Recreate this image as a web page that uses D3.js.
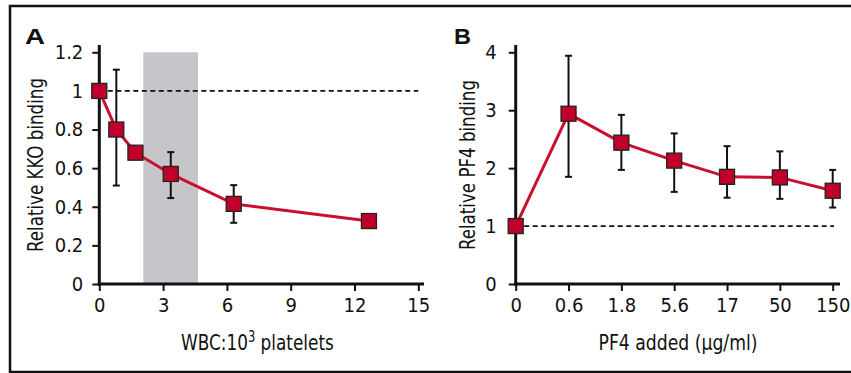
<!DOCTYPE html>
<html><head><meta charset="utf-8">
<script src="https://cdn.jsdelivr.net/npm/d3@7/dist/d3.min.js"></script>
<style>
body{margin:0;background:#fff;}
svg{display:block;}
text{font-family:"Liberation Sans Narrow","DejaVu Sans Condensed","Open Sans",sans-serif;fill:#111;}
</style></head>
<body>
<script>
// Panel A data
const aX = [0, 0.8, 1.7, 3.36, 6.32, 12.68];
const aY = [1.0, 0.8, 0.68, 0.57, 0.415, 0.326];
const aErrLow = [null, 0.51, null, 0.445, 0.317, null];
const aErrHigh = [null, 1.11, null, 0.683, 0.512, null];
const aXTicks = [0, 3, 6, 9, 12, 15];
const aYTicks = [0, 0.2, 0.4, 0.6, 0.8, 1, 1.2];
const aShade = [2.07, 4.64];

// Panel B data
const bCats = ["0", "0.6", "1.8", "5.6", "17", "50", "150"];
const bY = [1.0, 2.94, 2.44, 2.13, 1.85, 1.84, 1.61];
const bErrLow = [null, 1.85, 1.97, 1.59, 1.49, 1.47, 1.32];
const bErrHigh = [null, 3.94, 2.92, 2.60, 2.38, 2.29, 1.97];
const bYTicks = [0, 1, 2, 3, 4];

const W = 851, H = 373;
const svg = d3.select("body").append("svg").attr("width", W).attr("height", H);

// frame
svg.append("path").attr("d", `M851,6 H10 V372 H851`).attr("fill","none").attr("stroke","#111").attr("stroke-width",2.5);

const RED = "#c8102e", MARK = "#c0002a";
const TICKFS = "20px";

function styleAxis(a){
  a.select(".domain").remove();
  a.selectAll("line").attr("stroke","#111").attr("stroke-width",2);
  a.selectAll("text").style("font-size",TICKFS).attr("fill","#111");
}

// ---------- Panel A ----------
{
  const x = d3.scaleLinear().domain([0, 15]).range([99.3, 418.3]);
  const y = d3.scaleLinear().domain([0, 1.2]).range([284, 52.3]);
  const g = svg.append("g");
  g.append("rect").attr("x", x(aShade[0])).attr("width", x(aShade[1]) - x(aShade[0]))
    .attr("y", y(1.2)).attr("height", y(0) - y(1.2)).attr("fill", "#c6c5c9");
  g.append("line").attr("x1", x(0)).attr("x2", x(15)).attr("y1", y(1)).attr("y2", y(1))
    .attr("stroke","#111").attr("stroke-width",1.8).attr("stroke-dasharray","5,3.5");
  const xa = g.append("g").attr("transform", `translate(0,${y(0)})`)
    .call(d3.axisBottom(x).tickValues(aXTicks).tickSize(7).tickPadding(7).tickFormat(d3.format("d")));
  const ya = g.append("g").attr("transform", `translate(${x(0)},0)`)
    .call(d3.axisLeft(y).tickValues(aYTicks).tickSize(7).tickPadding(9)
      .tickFormat(d => (d === 0 || d === 1) ? String(d) : d3.format(".1f")(d)));
  styleAxis(xa); styleAxis(ya);
  g.append("line").attr("x1", x(0)).attr("x2", x(0)).attr("y1", 45).attr("y2", y(0)+1.5).attr("stroke","#111").attr("stroke-width",3);
  g.append("line").attr("x1", x(0)-1.5).attr("x2", 424).attr("y1", y(0)).attr("y2", y(0)).attr("stroke","#111").attr("stroke-width",3);
  g.append("path").datum(aX.map((v,i)=>[v,aY[i]]))
    .attr("d", d3.line().x(d=>x(d[0])).y(d=>y(d[1])))
    .attr("fill","none").attr("stroke",RED).attr("stroke-width",3);
  aX.forEach((v,i)=>{
    if(aErrLow[i]==null) return;
    const cx = x(v);
    g.append("line").attr("x1",cx).attr("x2",cx).attr("y1",y(aErrLow[i])).attr("y2",y(aErrHigh[i])).attr("stroke","#111").attr("stroke-width",2);
    [aErrLow[i], aErrHigh[i]].forEach(e=>g.append("line").attr("x1",cx-3.5).attr("x2",cx+3.5).attr("y1",y(e)).attr("y2",y(e)).attr("stroke","#111").attr("stroke-width",2));
  });
  g.selectAll("rect.m").data(aX.map((v,i)=>[v,aY[i]])).join("rect").attr("class","m")
    .attr("x", d=>x(d[0])-7.5).attr("y", d=>y(d[1])-7.5).attr("width",15).attr("height",15)
    .attr("fill",MARK).attr("stroke","#222").attr("stroke-width",1.3);
  g.append("text").attr("x",25).attr("y",44).attr("textLength",20).attr("lengthAdjust","spacingAndGlyphs").text("A")
    .style("font-family","'Liberation Sans',Arial,sans-serif").style("font-weight","bold").style("font-size","22px");
  g.append("text").attr("transform","translate(43,165) rotate(-90)").attr("text-anchor","middle")
    .style("font-size","22px").attr("textLength",174).attr("lengthAdjust","spacingAndGlyphs").text("Relative KKO binding");
  const t = g.append("text").attr("x",181).attr("y",350).style("font-size","22px");
  t.append("tspan").text("WBC:10");
  t.append("tspan").attr("dy",-8).style("font-size","15px").text("3");
  t.append("tspan").attr("dy",8).text(" platelets");
  // fit overall width
  const bw = t.node().getComputedTextLength();
  if (bw > 0) t.attr("transform", `translate(181,0) scale(${153/bw},1) translate(-181,0)`);
}

// ---------- Panel B ----------
{
  const x = d3.scalePoint().domain(bCats).range([515.7, 832.7]);
  const y = d3.scaleLinear().domain([0, 4]).range([284, 52.3]);
  const g = svg.append("g");
  g.append("line").attr("x1", x("0")).attr("x2", 834).attr("y1", y(1)).attr("y2", y(1))
    .attr("stroke","#111").attr("stroke-width",1.8).attr("stroke-dasharray","5,3.5");
  const xa = g.append("g").attr("transform", `translate(0,${y(0)})`)
    .call(d3.axisBottom(x).tickSize(7).tickPadding(7));
  const ya = g.append("g").attr("transform", `translate(${x("0")},0)`)
    .call(d3.axisLeft(y).tickValues(bYTicks).tickSize(7).tickPadding(12).tickFormat(d3.format("d")));
  styleAxis(xa); styleAxis(ya);
  g.append("line").attr("x1", x("0")).attr("x2", x("0")).attr("y1", 45).attr("y2", y(0)+1.5).attr("stroke","#111").attr("stroke-width",3);
  g.append("line").attr("x1", x("0")-1.5).attr("x2", 840).attr("y1", y(0)).attr("y2", y(0)).attr("stroke","#111").attr("stroke-width",3);
  g.append("path").datum(bCats.map((c,i)=>[c,bY[i]]))
    .attr("d", d3.line().x(d=>x(d[0])).y(d=>y(d[1])))
    .attr("fill","none").attr("stroke",RED).attr("stroke-width",3);
  bCats.forEach((c,i)=>{
    if(bErrLow[i]==null) return;
    const cx = x(c);
    g.append("line").attr("x1",cx).attr("x2",cx).attr("y1",y(bErrLow[i])).attr("y2",y(bErrHigh[i])).attr("stroke","#111").attr("stroke-width",2);
    [bErrLow[i], bErrHigh[i]].forEach(e=>g.append("line").attr("x1",cx-3.5).attr("x2",cx+3.5).attr("y1",y(e)).attr("y2",y(e)).attr("stroke","#111").attr("stroke-width",2));
  });
  g.selectAll("rect.m").data(bCats.map((c,i)=>[c,bY[i]])).join("rect").attr("class","m")
    .attr("x", d=>x(d[0])-7.5).attr("y", d=>y(d[1])-7.5).attr("width",15).attr("height",15)
    .attr("fill",MARK).attr("stroke","#222").attr("stroke-width",1.3);
  g.append("text").attr("x",454).attr("y",44).attr("textLength",17).attr("lengthAdjust","spacingAndGlyphs").text("B")
    .style("font-family","'Liberation Sans',Arial,sans-serif").style("font-weight","bold").style("font-size","22px");
  g.append("text").attr("transform","translate(475,165) rotate(-90)").attr("text-anchor","middle")
    .style("font-size","22px").attr("textLength",170).attr("lengthAdjust","spacingAndGlyphs").text("Relative PF4 binding");
  g.append("text").attr("x",678).attr("y",350).attr("text-anchor","middle").style("font-size","22px")
    .attr("textLength",159).attr("lengthAdjust","spacingAndGlyphs").text("PF4 added (μg/ml)");
}
</script>
</body></html>
